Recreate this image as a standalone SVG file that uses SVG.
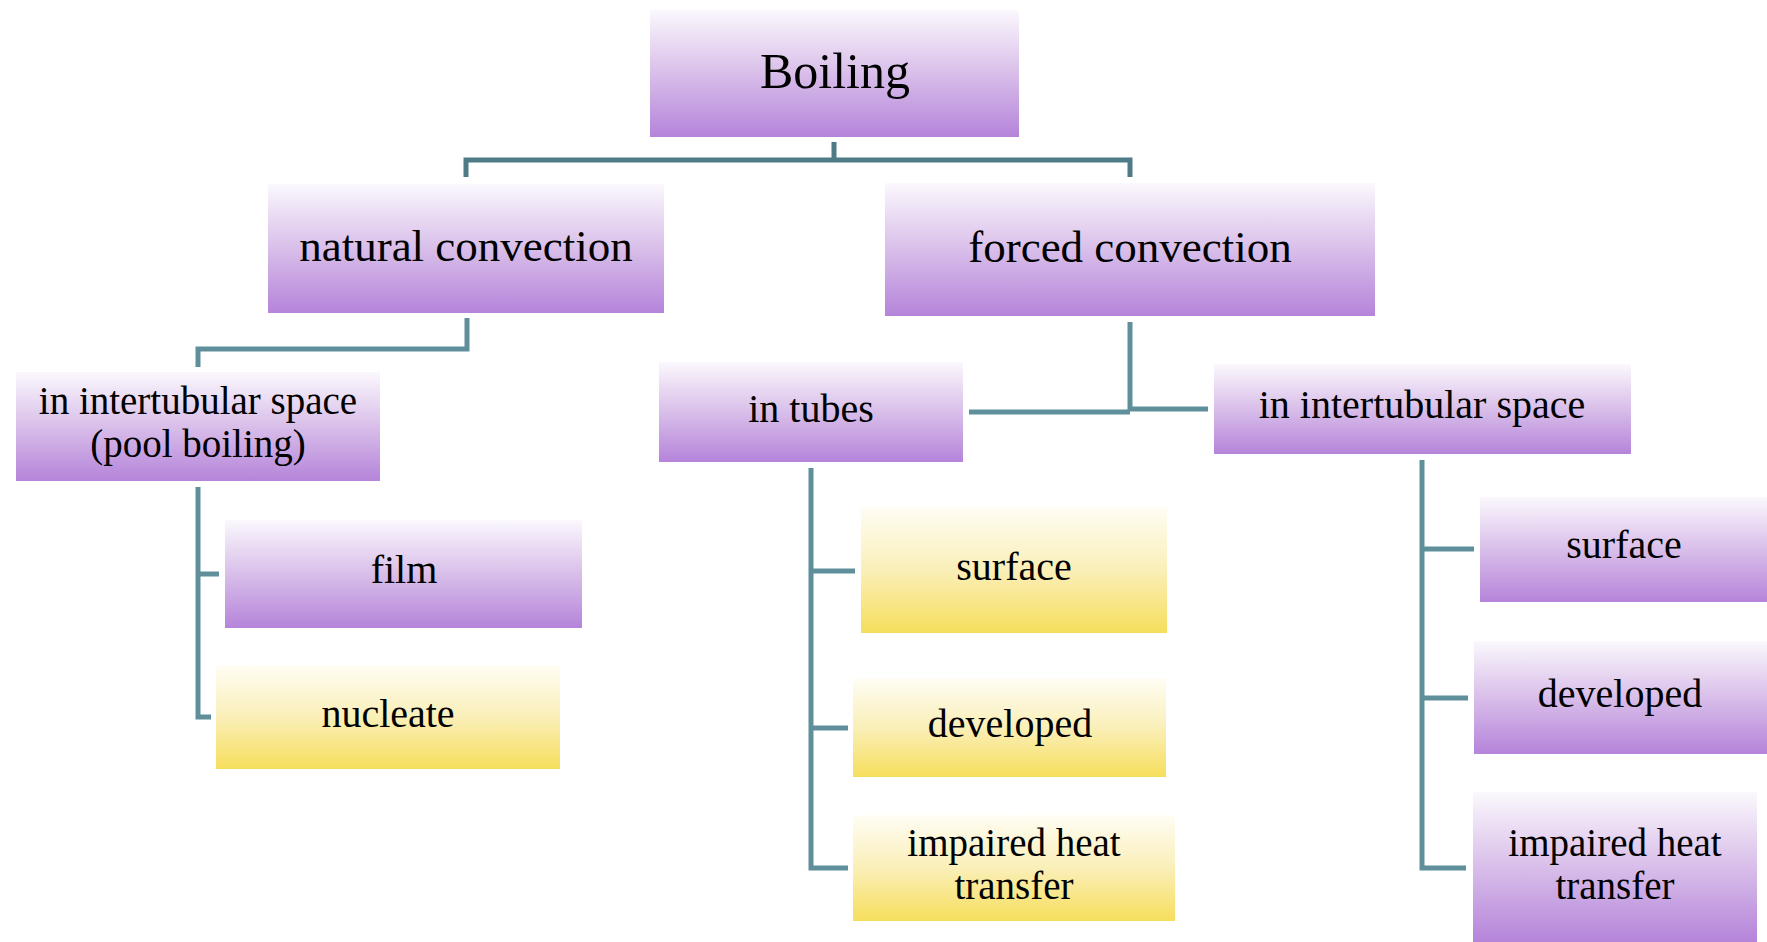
<svg xmlns="http://www.w3.org/2000/svg" width="1767" height="942" viewBox="0 0 1767 942">
<defs>
<linearGradient id="gp" x1="0" y1="0" x2="0" y2="1">
<stop offset="0" stop-color="#fbf8fd"/>
<stop offset="0.45" stop-color="#dcc4eb"/>
<stop offset="1" stop-color="#b584da"/>
</linearGradient>
<linearGradient id="gy" x1="0" y1="0" x2="0" y2="1">
<stop offset="0" stop-color="#fffdf5"/>
<stop offset="0.5" stop-color="#faefb8"/>
<stop offset="1" stop-color="#f6de5c"/>
</linearGradient>
<style>
.p{fill:url(#gp);}
.y{fill:url(#gy);}
text{font-family:"Liberation Serif","Times New Roman",serif;fill:#000;text-anchor:middle;}
.t1{font-size:50px;}
.t2{font-size:45px;}
.t3{font-size:40px;}
.t4{font-size:39px;}
.c{fill:none;stroke:#5f8f9b;stroke-width:5;}
.cd{stroke:#4f7b86;}
</style>
</defs>
<rect width="1767" height="942" fill="#fff"/>
<g id="connectors">
<path class="c cd" d="M834 142V160M466 177V160H1130V177"/>
<path class="c" d="M467 318V349H198V367"/>
<path class="c" d="M198 487V717H211M198 574H219"/>
<path class="c" d="M1130 322V411M969 412H1130M1130 409H1208"/>
<path class="c" d="M811 468V868H848M811 571H855M811 728H848"/>
<path class="c" d="M1422 460V868H1466M1422 549H1474M1422 698H1468"/>
</g>
<g id="boiling"><rect class="p" x="650" y="10" width="369" height="127"/><text class="t1" x="835" y="88">Boiling</text></g>
<g id="natural"><rect class="p" x="268" y="184" width="396" height="129"/><text class="t2" x="466" y="261">natural convection</text></g>
<g id="forced"><rect class="p" x="885" y="183" width="490" height="133"/><text class="t2" x="1130" y="262">forced convection</text></g>
<g id="pool"><rect class="p" x="16" y="372" width="364" height="109"/><text class="t4" x="198" y="414">in intertubular space</text><text class="t4" x="198" y="457">(pool boiling)</text></g>
<g id="tubes"><rect class="p" x="659" y="362" width="304" height="100"/><text class="t3" x="811" y="422">in tubes</text></g>
<g id="inter"><rect class="p" x="1214" y="364" width="417" height="90"/><text class="t3" x="1422" y="418">in intertubular space</text></g>
<g id="film"><rect class="p" x="225" y="520" width="357" height="108"/><text class="t3" x="404" y="583">film</text></g>
<g id="nucleate"><rect class="y" x="216" y="665" width="344" height="104"/><text class="t3" x="388" y="727">nucleate</text></g>
<g id="t-surface"><rect class="y" x="861" y="507" width="306" height="126"/><text class="t3" x="1014" y="580">surface</text></g>
<g id="t-developed"><rect class="y" x="853" y="678" width="313" height="99"/><text class="t3" x="1010" y="737">developed</text></g>
<g id="t-impaired"><rect class="y" x="853" y="815" width="322" height="106"/><text class="t4" x="1014" y="856">impaired heat</text><text class="t4" x="1014" y="899">transfer</text></g>
<g id="i-surface"><rect class="p" x="1480" y="497" width="287" height="105"/><text class="t3" x="1624" y="558">surface</text></g>
<g id="i-developed"><rect class="p" x="1474" y="641" width="293" height="113"/><text class="t3" x="1620" y="707">developed</text></g>
<g id="i-impaired"><rect class="p" x="1473" y="792" width="284" height="150"/><text class="t4" x="1615" y="856">impaired heat</text><text class="t4" x="1615" y="899">transfer</text></g>
</svg>
